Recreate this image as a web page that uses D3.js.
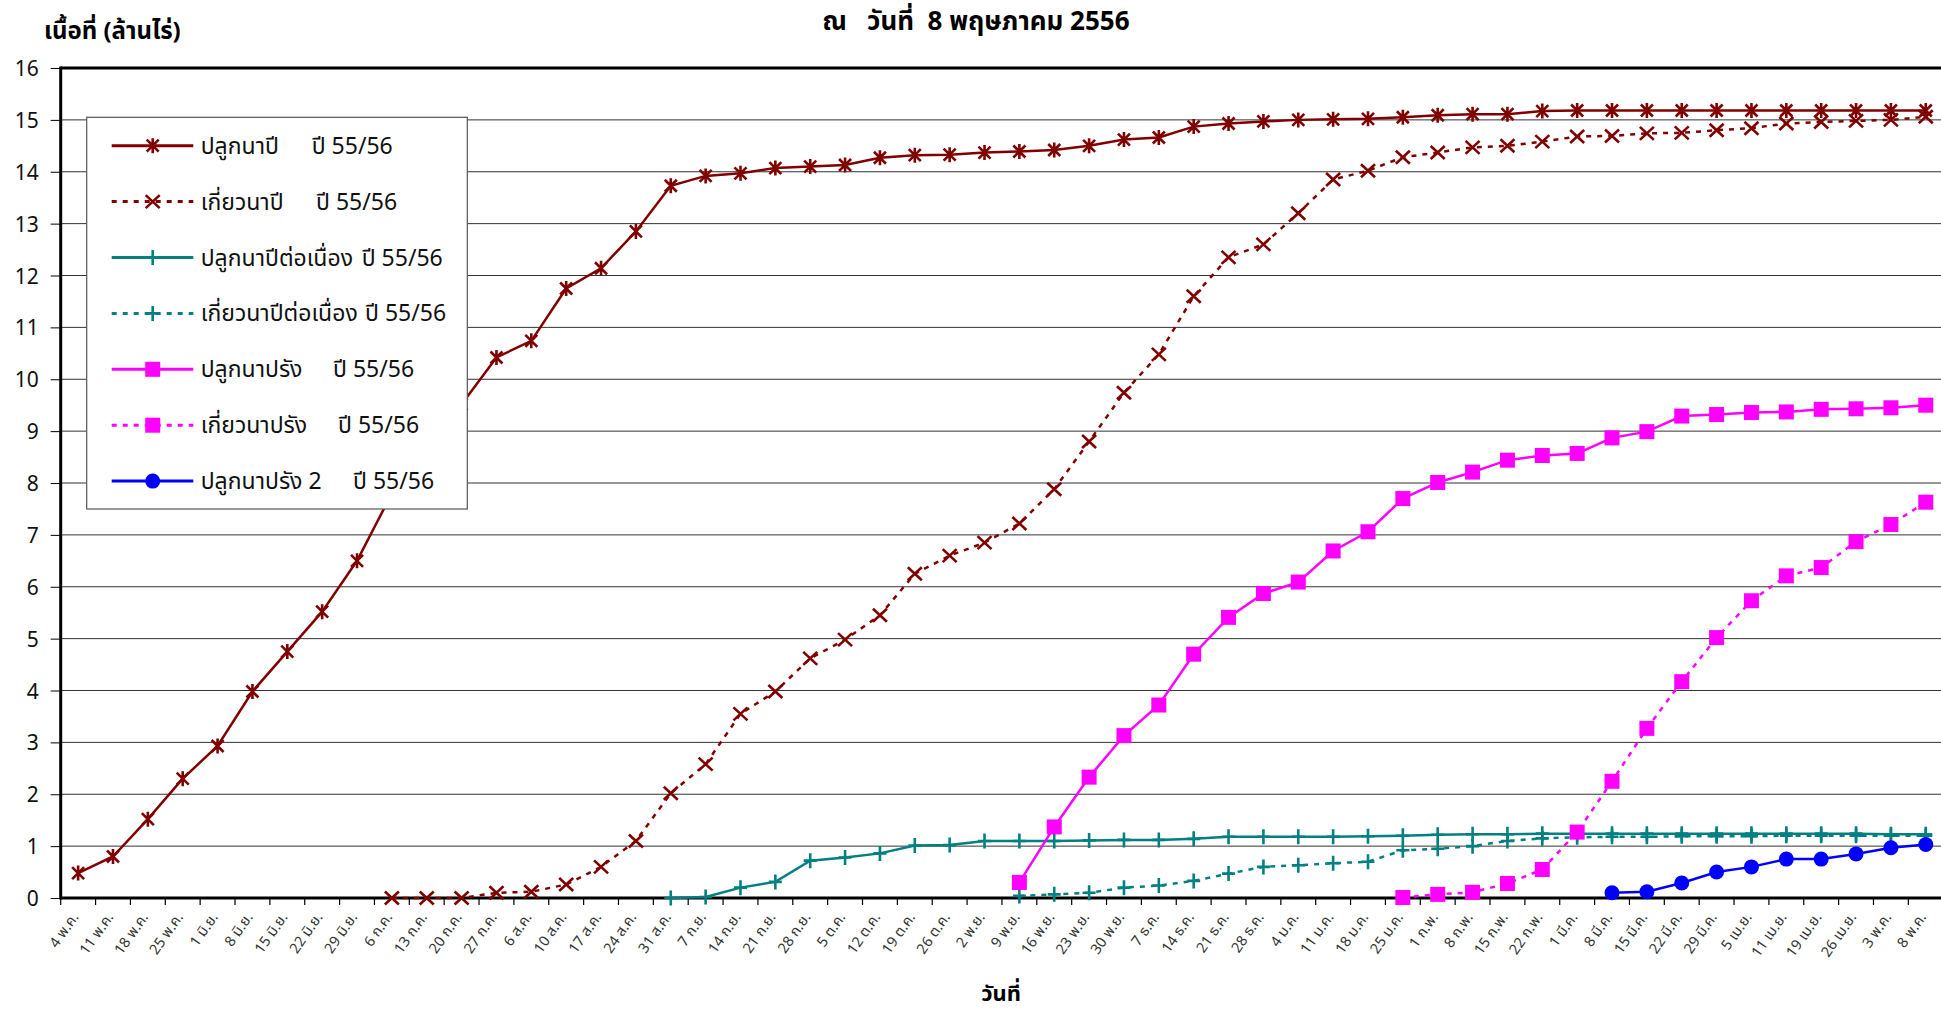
<!DOCTYPE html>
<html>
<head>
<meta charset="utf-8">
<script src="https://cdn.jsdelivr.net/npm/d3@7"></script>
<style>
  body{margin:0;background:#fff;}
  text{font-family:"Noto Sans Thai","Leelawadee UI",Tahoma,"Noto Sans",sans-serif;}
</style>
</head>
<body>
<div id="chart"></div>
<script>
// week labels on the x axis
var categories = ["4 พ.ค.","11 พ.ค.","18 พ.ค.","25 พ.ค.","1 มิ.ย.","8 มิ.ย.","15 มิ.ย.","22 มิ.ย.","29 มิ.ย.",
  "6 ก.ค.","13 ก.ค.","20 ก.ค.","27 ก.ค.","6 ส.ค.","10 ส.ค.","17 ส.ค.","24 ส.ค.","31 ส.ค.",
  "7 ก.ย.","14 ก.ย.","21 ก.ย.","28 ก.ย.","5 ต.ค.","12 ต.ค.","19 ต.ค.","26 ต.ค.",
  "2 พ.ย.","9 พ.ย.","16 พ.ย.","23 พ.ย.","30 พ.ย.","7 ธ.ค.","14 ธ.ค.","21 ธ.ค.","28 ธ.ค.",
  "4 ม.ค.","11 ม.ค.","18 ม.ค.","25 ม.ค.","1 ก.พ.","8 ก.พ.","15 ก.พ.","22 ก.พ.",
  "1 มี.ค.","8 มี.ค.","15 มี.ค.","22 มี.ค.","29 มี.ค.","5 เม.ย.","11 เม.ย.","19 เม.ย.","26 เม.ย.",
  "3 พ.ค.","8 พ.ค."];

var yTicks = [0,1,2,3,4,5,6,7,8,9,10,11,12,13,14,15,16];

// each series starts at a category and runs to the last week
var plantMainStart = "4 พ.ค.";
var plantMain = [0.48,0.80,1.52,2.30,2.93,3.98,4.75,5.52,6.50,7.80,8.60,9.52,
  10.42,10.74,11.75,12.14,12.85,13.73,13.92,13.97,14.07,14.10,14.13,14.27,14.32,14.33,14.37,
  14.39,14.42,14.50,14.62,14.66,14.87,14.93,14.97,15.00,15.01,15.02,15.05,15.09,15.11,15.11,
  15.17,15.18,15.18,15.18,15.18,15.18,15.18,15.18,15.18,15.18,15.18,15.18];

var harvestMainStart = "6 ก.ค.";
var harvestMain = [0,0,0,0.10,0.12,0.26,0.60,1.10,2.02,2.58,3.55,3.98,4.62,4.98,5.45,6.25,6.60,6.85,
  7.22,7.88,8.80,9.74,10.48,11.60,12.35,12.60,13.20,13.85,14.02,14.28,14.37,14.47,14.50,14.58,
  14.68,14.69,14.74,14.75,14.80,14.84,14.93,14.96,14.98,15.00,15.06];

var plantContStart = "31 ส.ค.";
var plantCont = [0,0.02,0.20,0.31,0.72,0.78,0.86,1.01,1.02,1.10,1.10,1.10,1.11,1.12,1.12,1.14,
  1.18,1.18,1.18,1.18,1.19,1.20,1.22,1.23,1.23,1.24,1.24,1.24,1.24,1.24,1.24,1.24,1.24,1.24,1.24,1.23,1.23];

var harvestContStart = "9 พ.ย.";
var harvestCont = [0.04,0.07,0.10,0.20,0.24,0.33,0.47,0.60,0.63,0.67,0.70,0.92,0.95,1.00,1.10,1.15,
  1.17,1.18,1.18,1.19,1.19,1.19,1.20,1.20,1.20,1.20,1.20];

var plantOffStart = "9 พ.ย.";
var plantOff = [0.30,1.37,2.33,3.13,3.72,4.70,5.41,5.87,6.09,6.69,7.06,7.70,8.01,8.21,8.44,8.53,
  8.57,8.87,8.99,9.29,9.32,9.36,9.37,9.42,9.43,9.45,9.50];

var harvestOffStart = "25 ม.ค.";
var harvestOff = [0.01,0.07,0.11,0.28,0.55,1.27,2.25,3.27,4.17,5.02,5.73,6.21,6.37,6.87,7.20,7.63];

var plantOff2Start = "8 มี.ค.";
var plantOff2 = [0.10,0.12,0.29,0.50,0.60,0.75,0.75,0.85,0.97,1.03];

var seriesNames = ["ปลูกนาปี","เกี่ยวนาปี","ปลูกนาปีต่อเนื่อง","เกี่ยวนาปีต่อเนื่อง","ปลูกนาปรัง","เกี่ยวนาปรัง","ปลูกนาปรัง 2"];
var seriesYear = "ปี 55/56";

function chartRenderer(domElement){
  var W = 1941, H = 1010;
  var left = 60.7, right = 1943.2, top = 68, bottom = 898;

  var series = [
    {name:seriesNames[0], start:plantMainStart,  values:plantMain,  color:"#800000", dash:null,  marker:"star"},
    {name:seriesNames[1], start:harvestMainStart,values:harvestMain,color:"#800000", dash:"5,6", marker:"x"},
    {name:seriesNames[2], start:plantContStart,  values:plantCont,  color:"#008080", dash:null,  marker:"plus"},
    {name:seriesNames[3], start:harvestContStart,values:harvestCont,color:"#008080", dash:"5,6", marker:"plus"},
    {name:seriesNames[4], start:plantOffStart,   values:plantOff,   color:"#FF00FF", dash:null,  marker:"square"},
    {name:seriesNames[5], start:harvestOffStart, values:harvestOff, color:"#FF00FF", dash:"5,6", marker:"square"},
    {name:seriesNames[6], start:plantOff2Start,  values:plantOff2,  color:"#0000FF", dash:null,  marker:"circle"}
  ];
  series.forEach(function(s){
    var s0 = categories.indexOf(s.start);
    s.points = s.values.map(function(v,k){ return {cat:categories[s0+k], val:v}; });
  });

  var svg = d3.select(domElement).append("svg")
    .attr("width",W).attr("height",H);

  var x = d3.scaleBand().domain(categories).range([left,right]);
  var y = d3.scaleLinear().domain([0,16]).range([bottom,top]);

  // gridlines
  svg.append("g").selectAll("line.grid")
    .data(yTicks.filter(function(t){ return t>0 && t<16; }))
    .enter().append("line")
    .attr("class","grid")
    .attr("x1",left).attr("x2",right)
    .attr("y1",function(d){ return y(d); })
    .attr("y2",function(d){ return y(d); })
    .style("stroke","#333").style("stroke-width",1);

  // y axis
  var yAxis = svg.append("g")
    .attr("transform","translate("+left+",0)")
    .call(d3.axisLeft(y).tickValues(yTicks).tickSize(10).tickPadding(12));
  yAxis.select(".domain").remove();
  yAxis.selectAll(".tick line").style("stroke","#000").style("stroke-width",1);
  yAxis.selectAll(".tick text")
    .style("font-size","21px").style("fill","#111")
    .attr("dy","0.36em");

  // x axis labels at band centers
  var xAxis = svg.append("g")
    .attr("transform","translate(0,"+bottom+")")
    .call(d3.axisBottom(x).tickSize(0));
  xAxis.select(".domain").remove();
  xAxis.selectAll(".tick text")
    .attr("y",0).attr("dy",0)
    .attr("text-anchor","end")
    .attr("transform","translate(1,19) rotate(-55)")
    .style("font-size","14.5px").style("fill","#333");

  // x tick marks between categories
  var bounds = categories.map(function(c){ return x(c); }).concat([right]);
  svg.append("g").selectAll("line.xtick")
    .data(bounds).enter().append("line")
    .attr("x1",function(d){ return d; }).attr("x2",function(d){ return d; })
    .attr("y1",bottom).attr("y2",bottom+7)
    .style("stroke","#000").style("stroke-width",1.2);

  // frame: top, left, bottom
  svg.append("line").attr("x1",left).attr("x2",right).attr("y1",top).attr("y2",top)
    .style("stroke","#000").style("stroke-width",3);
  svg.append("line").attr("x1",left).attr("x2",left).attr("y1",top-1.5).attr("y2",bottom+1.5)
    .style("stroke","#000").style("stroke-width",3);
  svg.append("line").attr("x1",left).attr("x2",right).attr("y1",bottom).attr("y2",bottom)
    .style("stroke","#000").style("stroke-width",3);

  var line = d3.line()
    .x(function(d){ return x(d.cat)+x.bandwidth()/2; })
    .y(function(d){ return y(d.val); });

  function drawMarker(g, type, color){
    if(type=="square"){
      g.append("rect").attr("x",-7.5).attr("y",-7.5).attr("width",15).attr("height",15)
        .style("fill",color);
    }else if(type=="circle"){
      g.append("circle").attr("r",7.5).style("fill",color);
    }else{
      var p;
      if(type=="star"){
        p = "M-6,-6L6,6M-6,6L6,-6M0,-7.5L0,7.5";
      }else if(type=="x"){
        p = "M-7,-6.5L7,6.5M-7,6.5L7,-6.5";
      }else{
        p = "M-6.5,0L6.5,0M0,-7.5L0,7.5";
      }
      g.append("path").attr("d",p)
        .style("fill","none").style("stroke",color).style("stroke-width",2.6);
    }
  }

  series.forEach(function(s){
    var g = svg.append("g").attr("class","series");
    g.append("path")
      .datum(s.points)
      .attr("d",line)
      .style("fill","none")
      .style("stroke",s.color)
      .style("stroke-width",2.5)
      .style("stroke-dasharray",s.dash);

    g.selectAll("g.mk").data(s.points).enter().append("g")
      .attr("class","mk")
      .attr("transform",function(d){
        return "translate("+(x(d.cat)+x.bandwidth()/2)+","+y(d.val)+")";
      })
      .each(function(){ drawMarker(d3.select(this), s.marker, s.color); });
  });

  // legend
  var legendYearX = [311.7,316,361.7,365,333,338,353];
  var lg = svg.append("g").attr("class","legend");
  lg.append("rect")
    .attr("x",86.7).attr("y",117.3).attr("width",380.6).attr("height",391.7)
    .style("fill","#fff").style("stroke","#555").style("stroke-width",1.2);

  series.forEach(function(s,i){
    var cy = 145.7 + i*55.9;
    lg.append("line")
      .attr("x1",111.7).attr("x2",193.3).attr("y1",cy).attr("y2",cy)
      .style("stroke",s.color).style("stroke-width",3)
      .style("stroke-dasharray",s.dash);
    var mg = lg.append("g").attr("transform","translate(152.7,"+cy+")");
    drawMarker(mg, s.marker, s.color);
    var t = lg.append("text")
      .attr("y",cy+8)
      .style("font-size","23px").style("fill","#111");
    t.append("tspan").attr("x",200.7).text(s.name);
    t.append("tspan").attr("x",legendYearX[i]).text(seriesYear);
  });

  // titles
  svg.append("text")
    .attr("x",976).attr("y",30)
    .attr("text-anchor","middle")
    .style("font-size","26px").style("font-weight","bold")
    .style("white-space","pre")
    .text("ณ   วันที่  8 พฤษภาคม 2556");

  svg.append("text")
    .attr("x",44).attr("y",39)
    .style("font-size","24px").style("font-weight","bold")
    .text("เนื้อที่ (ล้านไร่)");

  svg.append("text")
    .attr("x",1001).attr("y",1001)
    .attr("text-anchor","middle")
    .style("font-size","22px").style("font-weight","bold")
    .text("วันที่");
}

chartRenderer("#chart");
</script>
</body>
</html>
